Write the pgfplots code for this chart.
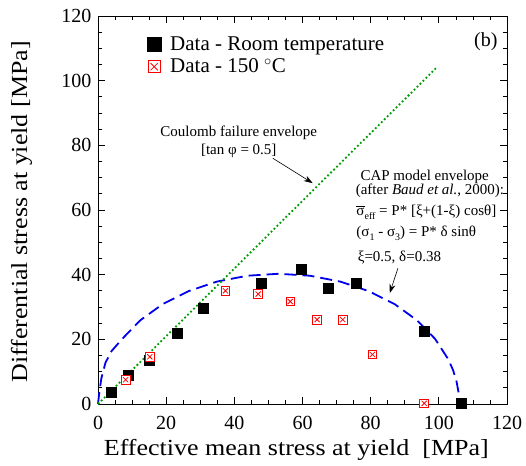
\documentclass[border=0pt]{standalone}
\usepackage{fontspec}
\setmainfont{Liberation Serif}
\usepackage{pgfplots}
\pgfplotsset{compat=1.18}
\usetikzlibrary{arrows.meta}

% square with a cross inside, for the 150 C data
\pgfdeclareplotmark{sqx}{%
  \pgfpathrectangle{\pgfpoint{-\pgfplotmarksize}{-\pgfplotmarksize}}{\pgfpoint{2\pgfplotmarksize}{2\pgfplotmarksize}}%
  \pgfusepathqfillstroke
  \pgfpathmoveto{\pgfpoint{-0.6\pgfplotmarksize}{-0.6\pgfplotmarksize}}%
  \pgfpathlineto{\pgfpoint{0.6\pgfplotmarksize}{0.6\pgfplotmarksize}}%
  \pgfpathmoveto{\pgfpoint{-0.6\pgfplotmarksize}{0.6\pgfplotmarksize}}%
  \pgfpathlineto{\pgfpoint{0.6\pgfplotmarksize}{-0.6\pgfplotmarksize}}%
  \pgfusepathqstroke}

\definecolor{coulomb}{RGB}{0,155,0}
\definecolor{capblue}{RGB}{0,0,235}

\begin{document}
\begin{tikzpicture}
\begin{axis}[
    name=ax,
    width=409pt, height=388pt, scale only axis,
    xmin=0, xmax=120, ymin=0, ymax=120,
    xtick={0,20,...,120}, ytick={0,20,...,120},
    minor tick num=3,
    tick align=inside,
    major tick length=7pt, minor tick length=4pt,
    tick style={black, line width=0.7pt},
    axis line style={line width=0.9pt},
    /pgf/number format/assume math mode=true,
    tick label style={font=\fontsize{20}{20}\selectfont},
    xticklabel style={yshift=-9pt},
    yticklabel style={xshift=-3pt},
    xlabel={\scalebox{1.13}[1]{Effective mean stress at yield\ \ [MPa]}},
    ylabel={\scalebox{1.13}[1]{Differential stress at yield [MPa]}},
    label style={font=\fontsize{23}{23}\selectfont},
    xlabel style={at={(axis description cs:0.485,-0.117)}, anchor=center},
    ylabel style={at={(axis description cs:-0.187,0.495)}, anchor=center},
    clip=false,
    legend cell align=left,
    legend style={draw=none, fill=none, at={(axis cs:13.5,114.9)}, anchor=north west,
                  font=\fontsize{21}{23}\selectfont, row sep=3pt,
                  /tikz/every odd column/.append style={column sep=7pt}},
]
% CAP model envelope (P* = 106, xi = 0.5, delta = 0.38)
\addplot[capblue, line width=1.8pt, dash pattern=on 12pt off 6pt, forget plot] coordinates {
  (0,0) (0.4,3.8) (1.0,8.0) (2.2,12.8) (4.0,16.4) (7.10,20.14)
  (12.40,25.89) (18.93,30.86) (26.50,34.88) (34.87,37.85) (43.80,39.67)
  (53.00,40.28) (62.20,39.67) (71.13,37.85) (79.50,34.88) (87.07,30.86)
  (93.60,25.89) (98.90,20.14) (102.80,13.78) (104.19,10.43) (105.19,6.99)
  (105.80,3.51) (106,0)
};
% Coulomb failure envelope
\addplot[coulomb, line width=1.8pt, dash pattern=on 1.8pt off 2.4pt, forget plot] coordinates {
  (0,0) (99.4,104.1)
};
\addplot[only marks, mark=square*, mark size=5pt, black,
         legend image post style={mark size=7pt}] coordinates {
  (4.0,3.7) (8.9,9.0) (15.0,13.6) (23.3,21.8) (30.9,29.7) (48.0,37.5)
  (59.6,41.7) (67.5,35.7) (75.7,37.5) (95.7,22.6) (106.5,0.2)
};
\addlegendentry{Data - Room temperature}
\addplot[only marks, mark=sqx, mark size=4.3pt, draw=red, fill=white, line width=0.8pt,
         legend image post style={mark size=6pt}] coordinates {
  (8.1,7.5) (15.2,14.6) (37.4,35.0) (47.0,34.0) (56.4,31.7) (64.3,26.1)
  (71.8,26.1) (80.5,15.3) (95.7,0.2)
};
\addlegendentry{Data - 150 $^{\circ}$C}

\node[font=\fontsize{20}{20}\selectfont] at (axis cs:113.8,112.1) {(b)};

\node[font=\fontsize{15}{15}\selectfont] at (axis cs:41.3,84.0) {Coulomb failure envelope};
\node[font=\fontsize{15}{15}\selectfont] at (axis cs:41.3,78.2) {[tan φ = 0.5]};
\draw[-{Stealth[length=9pt,width=6pt]}, line width=0.6pt] (axis cs:51.3,76.0) -- (axis cs:63.0,68.3);

\node[font=\fontsize{15}{15}\selectfont, anchor=west] at (axis cs:76.0,70.1) {CAP model envelope};
\node[font=\fontsize{15}{15}\selectfont, anchor=west] at (axis cs:74.6,65.8) {(after \textit{Baud et al.}, 2000):};
\node[font=\fontsize{15}{15}\selectfont, anchor=west] at (axis cs:74.8,59.3)
  {$\overline{\mbox{σ}}$\raisebox{-0.5ex}{\fontsize{10}{10}\selectfont eff} = P* [ξ+(1-ξ) cosθ]};
\node[font=\fontsize{15}{15}\selectfont, anchor=west] at (axis cs:74.8,52.8)
  {(σ\raisebox{-0.5ex}{\fontsize{10}{10}\selectfont 1} - σ\raisebox{-0.5ex}{\fontsize{10}{10}\selectfont 3}) = P* δ sinθ};
\node[font=\fontsize{15}{15}\selectfont, anchor=west] at (axis cs:75.2,45.4) {ξ=0.5, δ=0.38};
\draw[-{Stealth[length=9pt,width=6pt]}, line width=0.6pt] (axis cs:88.0,42.0) -- (axis cs:85.6,34.3);
\end{axis}
\pgfresetboundingbox
\path[use as bounding box] ([shift={(-98pt,-61pt)}]ax.south west) rectangle ([shift={(19pt,16pt)}]ax.north east);
\end{tikzpicture}
\end{document}
